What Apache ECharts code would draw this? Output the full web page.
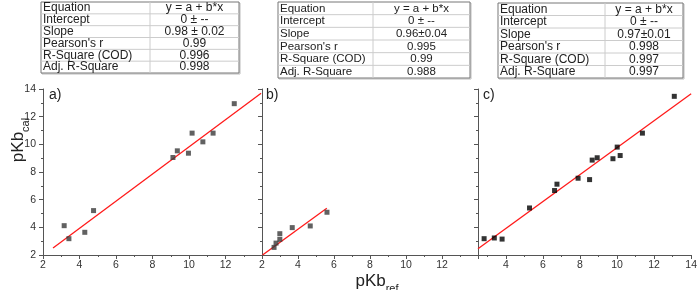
<!DOCTYPE html>
<html>
<head>
<meta charset="utf-8">
<script src="https://cdn.jsdelivr.net/npm/echarts@6.0.0/dist/echarts.min.js"></script>
<style>
  html, body { margin: 0; padding: 0; background: #fff; }
  #chart { width: 700px; height: 290px; }
</style>
</head>
<body>
<div id="chart"></div>
<script>
// measured points (pKb_ref, pKb_cal)
const aX = [3.16, 3.42, 4.29, 4.77, 9.12, 9.36, 9.97, 10.17, 10.76, 11.32, 12.48];
const aY = [4.12, 3.18, 3.64, 5.21, 9.05, 9.53, 9.36, 10.81, 10.18, 10.81, 12.94];
const bX = [2.67, 2.78, 2.99, 2.99, 3.68, 4.68, 5.61];
const bY = [2.55, 2.86, 3.13, 3.54, 3.98, 4.10, 5.09];
const cX = [2.83, 3.38, 3.80, 5.28, 6.63, 6.76, 7.90, 8.52, 8.66, 8.93, 9.78, 10.01, 10.17, 11.37, 13.09];
const cY = [3.18, 3.23, 3.15, 5.40, 6.66, 7.12, 7.55, 7.45, 8.86, 9.03, 8.96, 9.80, 9.19, 10.81, 13.47];

// fitted lines, end points
const fitA = [[2.55, 2.5], [13.95, 13.7]];
const fitB = [[2.03, 2.0], [5.6, 5.38]];
const fitC = [[2.5, 2.45], [14, 13.65]];

// tick labels
const xLabelsAB = [2, 4, 6, 8, 10, 12];
const xLabelsC = [4, 6, 8, 10, 12, 14];
const xMinorC = [3, 5, 7, 9, 11, 13];

// fit tables
const tableLabels = ['Equation', 'Intercept', 'Slope', "Pearson's r", 'R-Square (COD)', 'Adj. R-Square'];
const tableA = ['y = a + b*x', '0 \u00b1 --', '0.98 \u00b1 0.02', '0.99', '0.996', '0.998'];
const tableB = ['y = a + b*x', '0 \u00b1 --', '0.96\u00b10.04', '0.995', '0.99', '0.988'];
const tableC = ['y = a + b*x', '0 \u00b1 --', '0.97\u00b10.01', '0.998', '0.997', '0.997'];

const zip = (xs, ys) => xs.map((x, i) => [x, ys[i]]);

const font = 'Liberation Sans, Arial, sans-serif';
const axisColor = '#555';
const labelColor = '#333';

function makeTable(left, top, width, height, split, values, size) {
  const rowH = height / tableLabels.length;
  const els = [];
  els.push({
    type: 'rect', shape: { x: left + 1, y: top + 1, width: width, height: height },
    style: { fill: 'none', stroke: '#bbb', lineWidth: 1 }, silent: true
  });
  els.push({
    type: 'rect', shape: { x: left, y: top, width: width, height: height },
    style: { fill: '#fff', stroke: '#777', lineWidth: 1 }, silent: true
  });
  for (let i = 1; i < tableLabels.length; i++) {
    els.push({
      type: 'line', shape: { x1: left, y1: top + i * rowH, x2: left + width, y2: top + i * rowH },
      style: { stroke: '#ccc', lineWidth: 1 }, silent: true
    });
  }
  els.push({
    type: 'line', shape: { x1: split, y1: top, x2: split, y2: top + height },
    style: { stroke: '#ccc', lineWidth: 1 }, silent: true
  });
  tableLabels.forEach((lab, i) => {
    els.push({
      type: 'text', x: left + 2, y: top + (i + 0.5) * rowH,
      style: { text: lab, font: size + 'px ' + font, fill: '#222', align: 'left', verticalAlign: 'middle' }
    });
    els.push({
      type: 'text', x: (split + left + width) / 2, y: top + (i + 0.5) * rowH,
      style: { text: values[i], font: size + 'px ' + font, fill: '#222', align: 'center', verticalAlign: 'middle' }
    });
  });
  return els;
}

function xAxisCfg(gridIndex, min, max, labels, useInterval) {
  const cfg = {
    type: 'value', gridIndex: gridIndex, min: min, max: max,
    axisLine: { show: true, lineStyle: { color: axisColor } },
    axisTick: { show: true, length: 4, lineStyle: { color: axisColor } },
    axisLabel: { color: labelColor, fontSize: 10.5, fontFamily: font, margin: 5, customValues: labels },
    splitLine: { show: false }
  };
  if (useInterval) {
    cfg.interval = 2;
    cfg.minorTick = { show: true, splitNumber: 2, length: 2, lineStyle: { color: axisColor } };
  } else {
    cfg.axisTick.customValues = labels;
  }
  return cfg;
}

function yAxisCfg(gridIndex, showLabels) {
  return {
    type: 'value', gridIndex: gridIndex, min: 2, max: 14, interval: 2,
    axisLine: { show: true, lineStyle: { color: axisColor } },
    axisTick: { show: true, length: 4, lineStyle: { color: axisColor } },
    minorTick: { show: true, splitNumber: 2, length: 2, lineStyle: { color: axisColor } },
    axisLabel: { show: showLabels, color: labelColor, fontSize: 10.5, fontFamily: font, margin: 7 },
    splitLine: { show: false }
  };
}

const chart = echarts.init(document.getElementById('chart'));
const fitStyle = () => ({ color: '#ff1a1a', width: 1.3 });

const titleRich = {
  m: { fontSize: 17, fontFamily: font, fill: '#222', lineHeight: 22, verticalAlign: 'bottom' },
  s: { fontSize: 11, fontFamily: font, fill: '#222', lineHeight: 22, verticalAlign: 'bottom', padding: [0, 0, -4, 0] }
};

chart.setOption({
  animation: false,
  grid: [
    { left: 43, width: 219, top: 89, height: 166 },
    { left: 262, width: 216, top: 89, height: 166 },
    { left: 478, width: 216, top: 89, height: 166 }
  ],
  xAxis: [
    xAxisCfg(0, 2, 14, xLabelsAB, true),
    xAxisCfg(1, 2, 14, xLabelsAB, true),
    xAxisCfg(2, 2.5, 14, xLabelsC, false),
    {
      type: 'value', gridIndex: 2, min: 2.5, max: 14, position: 'bottom',
      axisLine: { show: false },
      axisTick: { show: true, length: 2, customValues: xMinorC, lineStyle: { color: axisColor } },
      axisLabel: { show: false },
      splitLine: { show: false }
    }
  ],
  yAxis: [yAxisCfg(0, true), yAxisCfg(1, false), yAxisCfg(2, false)],
  series: [
    { type: 'scatter', xAxisIndex: 0, yAxisIndex: 0, data: zip(aX, aY), symbol: 'rect', symbolSize: 5, itemStyle: { color: '#3a3a3a' }, z: 3 },
    { type: 'line', xAxisIndex: 0, yAxisIndex: 0, data: fitA, showSymbol: false, lineStyle: fitStyle(), z: 2 },
    { type: 'scatter', xAxisIndex: 1, yAxisIndex: 1, data: zip(bX, bY), symbol: 'rect', symbolSize: 5, itemStyle: { color: '#3a3a3a' }, z: 3 },
    { type: 'line', xAxisIndex: 1, yAxisIndex: 1, data: fitB, showSymbol: false, lineStyle: fitStyle(), z: 2 },
    { type: 'scatter', xAxisIndex: 2, yAxisIndex: 2, data: zip(cX, cY), symbol: 'rect', symbolSize: 5, itemStyle: { color: '#000' }, z: 3 },
    { type: 'line', xAxisIndex: 2, yAxisIndex: 2, data: fitC, showSymbol: false, lineStyle: fitStyle(), z: 2 }
  ],
  graphic: [
    ...makeTable(41, 2, 198, 71, 150, tableA, 12),
    ...makeTable(278, 2, 192, 76, 373, tableB, 11.5),
    ...makeTable(498, 3, 185, 75, 605, tableC, 12),
    { type: 'text', x: 49, y: 95, style: { text: 'a)', font: '14px ' + font, fill: '#222', verticalAlign: 'middle' } },
    { type: 'text', x: 266, y: 95, style: { text: 'b)', font: '14px ' + font, fill: '#222', verticalAlign: 'middle' } },
    { type: 'text', x: 483, y: 95, style: { text: 'c)', font: '14px ' + font, fill: '#222', verticalAlign: 'middle' } },
    {
      type: 'text', x: 16, y: 140, rotation: Math.PI / 2,
      style: { text: '{m|pKb}{s|cal}', align: 'center', verticalAlign: 'middle', rich: titleRich }
    },
    {
      type: 'text', x: 377, y: 279,
      style: { text: '{m|pKb}{s|ref}', align: 'center', verticalAlign: 'middle', rich: titleRich }
    }
  ]
});
</script>
</body>
</html>
